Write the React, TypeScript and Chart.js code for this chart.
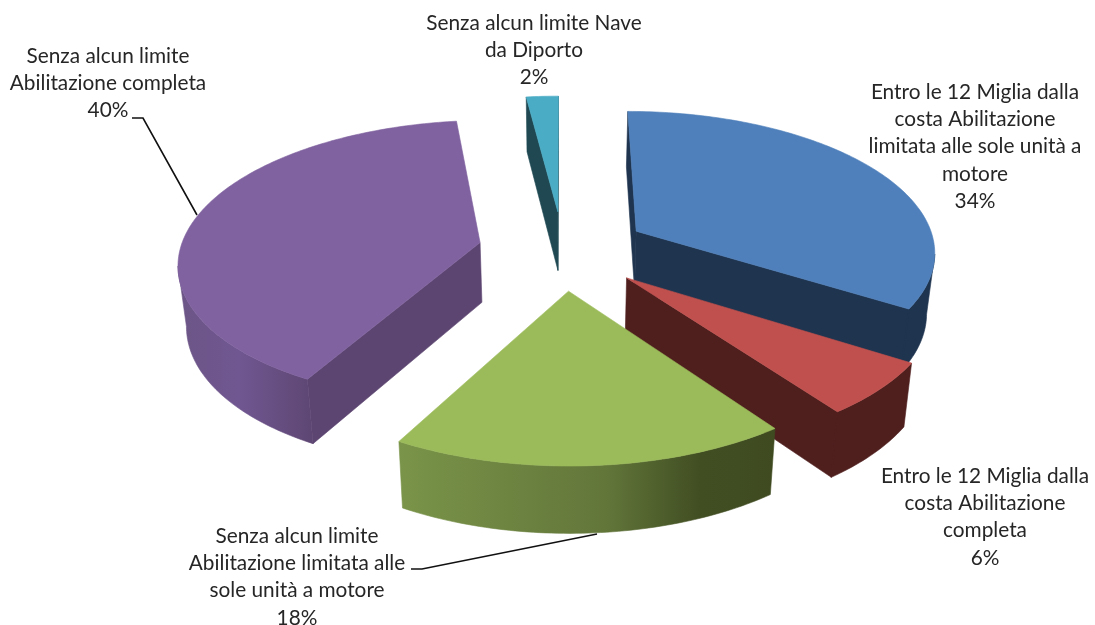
import React, { useEffect, useRef } from "react";
import { Chart, PieController, registerables } from "chart.js";

// Licence categories, wrapped the way they are set beside the pie
const labelLines: string[][] = [
  ["Entro le 12 Miglia dalla", "costa Abilitazione", "limitata alle sole unità a", "motore"],
  ["Entro le 12 Miglia dalla", "costa Abilitazione", "completa"],
  ["Senza alcun limite", "Abilitazione limitata alle", "sole unità a motore"],
  ["Senza alcun limite", "Abilitazione completa"],
  ["Senza alcun limite Nave", "da Diporto"],
];
const shares: number[] = [34, 6, 18, 40, 2];

// Colours of the top faces, the cut faces and the curved rims
const topColors = ["#4f80bb", "#c0504d", "#9bba59", "#7f629f", "#4bacc6"];
const cutColors = ["#1f344f", "#4f1f1e", "#3f4a20", "#5c4570", "#1f4852"];
const rimStops: [number, string][][] = [
  [[0, "#1f344f"], [1, "#1f344f"]],
  [[0, "#4f1f1e"], [1, "#4f1f1e"]],
  [[0, "#7a9449"], [0.55, "#62763a"], [0.8, "#414e22"], [1, "#3f4a20"]],
  [[0, "#6c5586"], [0.45, "#705791"], [1, "#5e4673"]],
  [[0, "#1f4852"], [1, "#1f4852"]],
];

// Pie geometry
const RADIUS = 300;
const EXPLODE = 85;
const FLATTEN = 0.467;
const PERSPECTIVE = 0.131;
const DEPTH = 60;
const BASE_SHRINK = 0.978;

// Label placement: centre x and y of the first line for each slice
const labelAnchors = [
  { x: 975, y: 92 },
  { x: 985, y: 476 },
  { x: 297, y: 536 },
  { x: 108, y: 56 },
  { x: 534, y: 23 },
];
const LINE_HEIGHT = 27.3;
const leaderLines = [
  [[132, 118], [143, 118], [197, 215]],
  [[411, 569], [422, 569], [597, 534]],
];

type Pt = { x: number; y: number };

// Pie controller that extrudes each arc element into a perspective wedge
class Pie3DController extends PieController {
  static id = "pie3d";

  draw() {
    const ctx = this.chart.ctx as CanvasRenderingContext2D;
    const arcs = this._cachedMeta.data as any[];
    const order = [4, 3, 0, 1, 2];
    const persp = PERSPECTIVE / RADIUS;

    // The thin same-colour stroke closes antialiasing seams between faces
    const polygon = (pts: Pt[], fill: string | CanvasGradient) => {
      ctx.beginPath();
      pts.forEach((p, i) => (i ? ctx.lineTo(p.x, p.y) : ctx.moveTo(p.x, p.y)));
      ctx.closePath();
      ctx.fillStyle = fill;
      ctx.strokeStyle = fill;
      ctx.lineWidth = 0.6;
      ctx.lineJoin = "round";
      ctx.fill();
      ctx.stroke();
    };
    const joint = (a: Pt, b: Pt, color: string) => {
      ctx.beginPath();
      ctx.moveTo(a.x, a.y);
      ctx.lineTo(b.x, b.y);
      ctx.strokeStyle = color;
      ctx.lineWidth = 1.4;
      ctx.stroke();
    };

    ctx.save();
    for (const index of order) {
      const arc = arcs[index];
      const { x: cx, y: cy, startAngle, endAngle, outerRadius } = arc;
      const mid = (startAngle + endAngle) / 2;
      const off = arc.options.offset;
      const ox = Math.cos(mid) * off;
      const oy = Math.sin(mid) * off;

      const top = (X: number, Y: number): Pt => {
        const s = 1 / (1 - persp * Y);
        return { x: cx + X * s, y: cy + FLATTEN * Y * s };
      };
      const bottom = (X: number, Y: number): Pt => {
        const s = 1 / (1 - persp * Y);
        return {
          x: cx + X * s * BASE_SHRINK,
          y: cy + FLATTEN * Y * s * BASE_SHRINK + DEPTH * s,
        };
      };

      const steps = Math.max(6, Math.ceil(((endAngle - startAngle) * 180) / Math.PI));
      const rimModel: [number, number][] = [];
      for (let i = 0; i <= steps; i++) {
        const a = startAngle + ((endAngle - startAngle) * i) / steps;
        rimModel.push([ox + outerRadius * Math.cos(a), oy + outerRadius * Math.sin(a)]);
      }
      const topRim = rimModel.map(([X, Y]) => top(X, Y));
      const bottomRim = rimModel.map(([X, Y]) => bottom(X, Y));
      const apexTop = top(ox, oy);
      const apexBottom = bottom(ox, oy);

      // Radial cut faces, kept only when they turn towards the viewer
      const cutColor = cutColors[index];
      const last = rimModel.length - 1;
      const startCutVisible = apexTop.x > topRim[0].x;
      const endCutVisible = topRim[last].x > apexTop.x;
      if (startCutVisible) {
        polygon([apexTop, topRim[0], bottomRim[0], apexBottom], cutColor);
      }
      if (endCutVisible) {
        polygon([topRim[last], apexTop, apexBottom, bottomRim[last]], cutColor);
      }

      // Curved rim: the run of the arc that travels right to left on screen
      let from = -1;
      let to = -1;
      for (let i = 0; i < last; i++) {
        if (topRim[i + 1].x < topRim[i].x) {
          if (from < 0) from = i;
          to = i + 1;
        }
      }
      if (from >= 0) {
        const upper = topRim.slice(from, to + 1);
        const lower = bottomRim.slice(from, to + 1).reverse();
        const xs = [...upper, ...lower].map((p) => p.x);
        const gradient = ctx.createLinearGradient(Math.min(...xs), 0, Math.max(...xs), 0);
        rimStops[index].forEach(([at, color]) => gradient.addColorStop(at, color));
        polygon([...upper, ...lower], gradient);
        // Hide the junction where a cut face meets the rim
        if (endCutVisible && to === last) {
          joint(topRim[last], bottomRim[last], cutColor);
        }
      }

      polygon([apexTop, ...topRim], arc.options.backgroundColor);
    }
    ctx.restore();
  }
}

Chart.register(...registerables, Pie3DController);

// Draws the category and percentage labels with their leader lines
const sliceLabels = {
  id: "sliceLabels",
  afterDraw(chart: Chart) {
    const ctx = chart.ctx;
    ctx.save();
    ctx.strokeStyle = "#111111";
    ctx.lineWidth = 1.6;
    for (const line of leaderLines) {
      ctx.beginPath();
      line.forEach(([x, y], i) => (i ? ctx.lineTo(x, y) : ctx.moveTo(x, y)));
      ctx.stroke();
    }
    ctx.fillStyle = "#262626";
    ctx.font = '20.8px Lato, "Noto Sans", sans-serif';
    ctx.textAlign = "center";
    ctx.textBaseline = "middle";
    labelLines.forEach((lines, i) => {
      const anchor = labelAnchors[i];
      [...lines, `${shares[i]}%`].forEach((text, row) => {
        ctx.fillText(text, anchor.x, anchor.y + row * LINE_HEIGHT);
      });
    });
    ctx.restore();
  },
};

export default function App() {
  const canvasRef = useRef<HTMLCanvasElement>(null);

  useEffect(() => {
    const chart = new Chart(canvasRef.current!, {
      type: "pie3d" as any,
      data: {
        labels: labelLines.map((lines) => lines.join(" ")),
        datasets: [
          {
            data: shares,
            backgroundColor: topColors,
            borderWidth: 0,
            offset: EXPLODE,
            radius: RADIUS,
            clip: false,
          } as any,
        ],
      },
      options: {
        animation: false,
        responsive: false,
        layout: { padding: { left: 31, bottom: 125 } },
        plugins: { legend: { display: false }, tooltip: { enabled: false } },
      },
      plugins: [sliceLabels],
    });
    return () => chart.destroy();
  }, []);

  return (
    <div style={{ position: "absolute", left: 0, top: 0 }}>
      <canvas ref={canvasRef} width={1095} height={625} style={{ display: "block" }} />
    </div>
  );
}
